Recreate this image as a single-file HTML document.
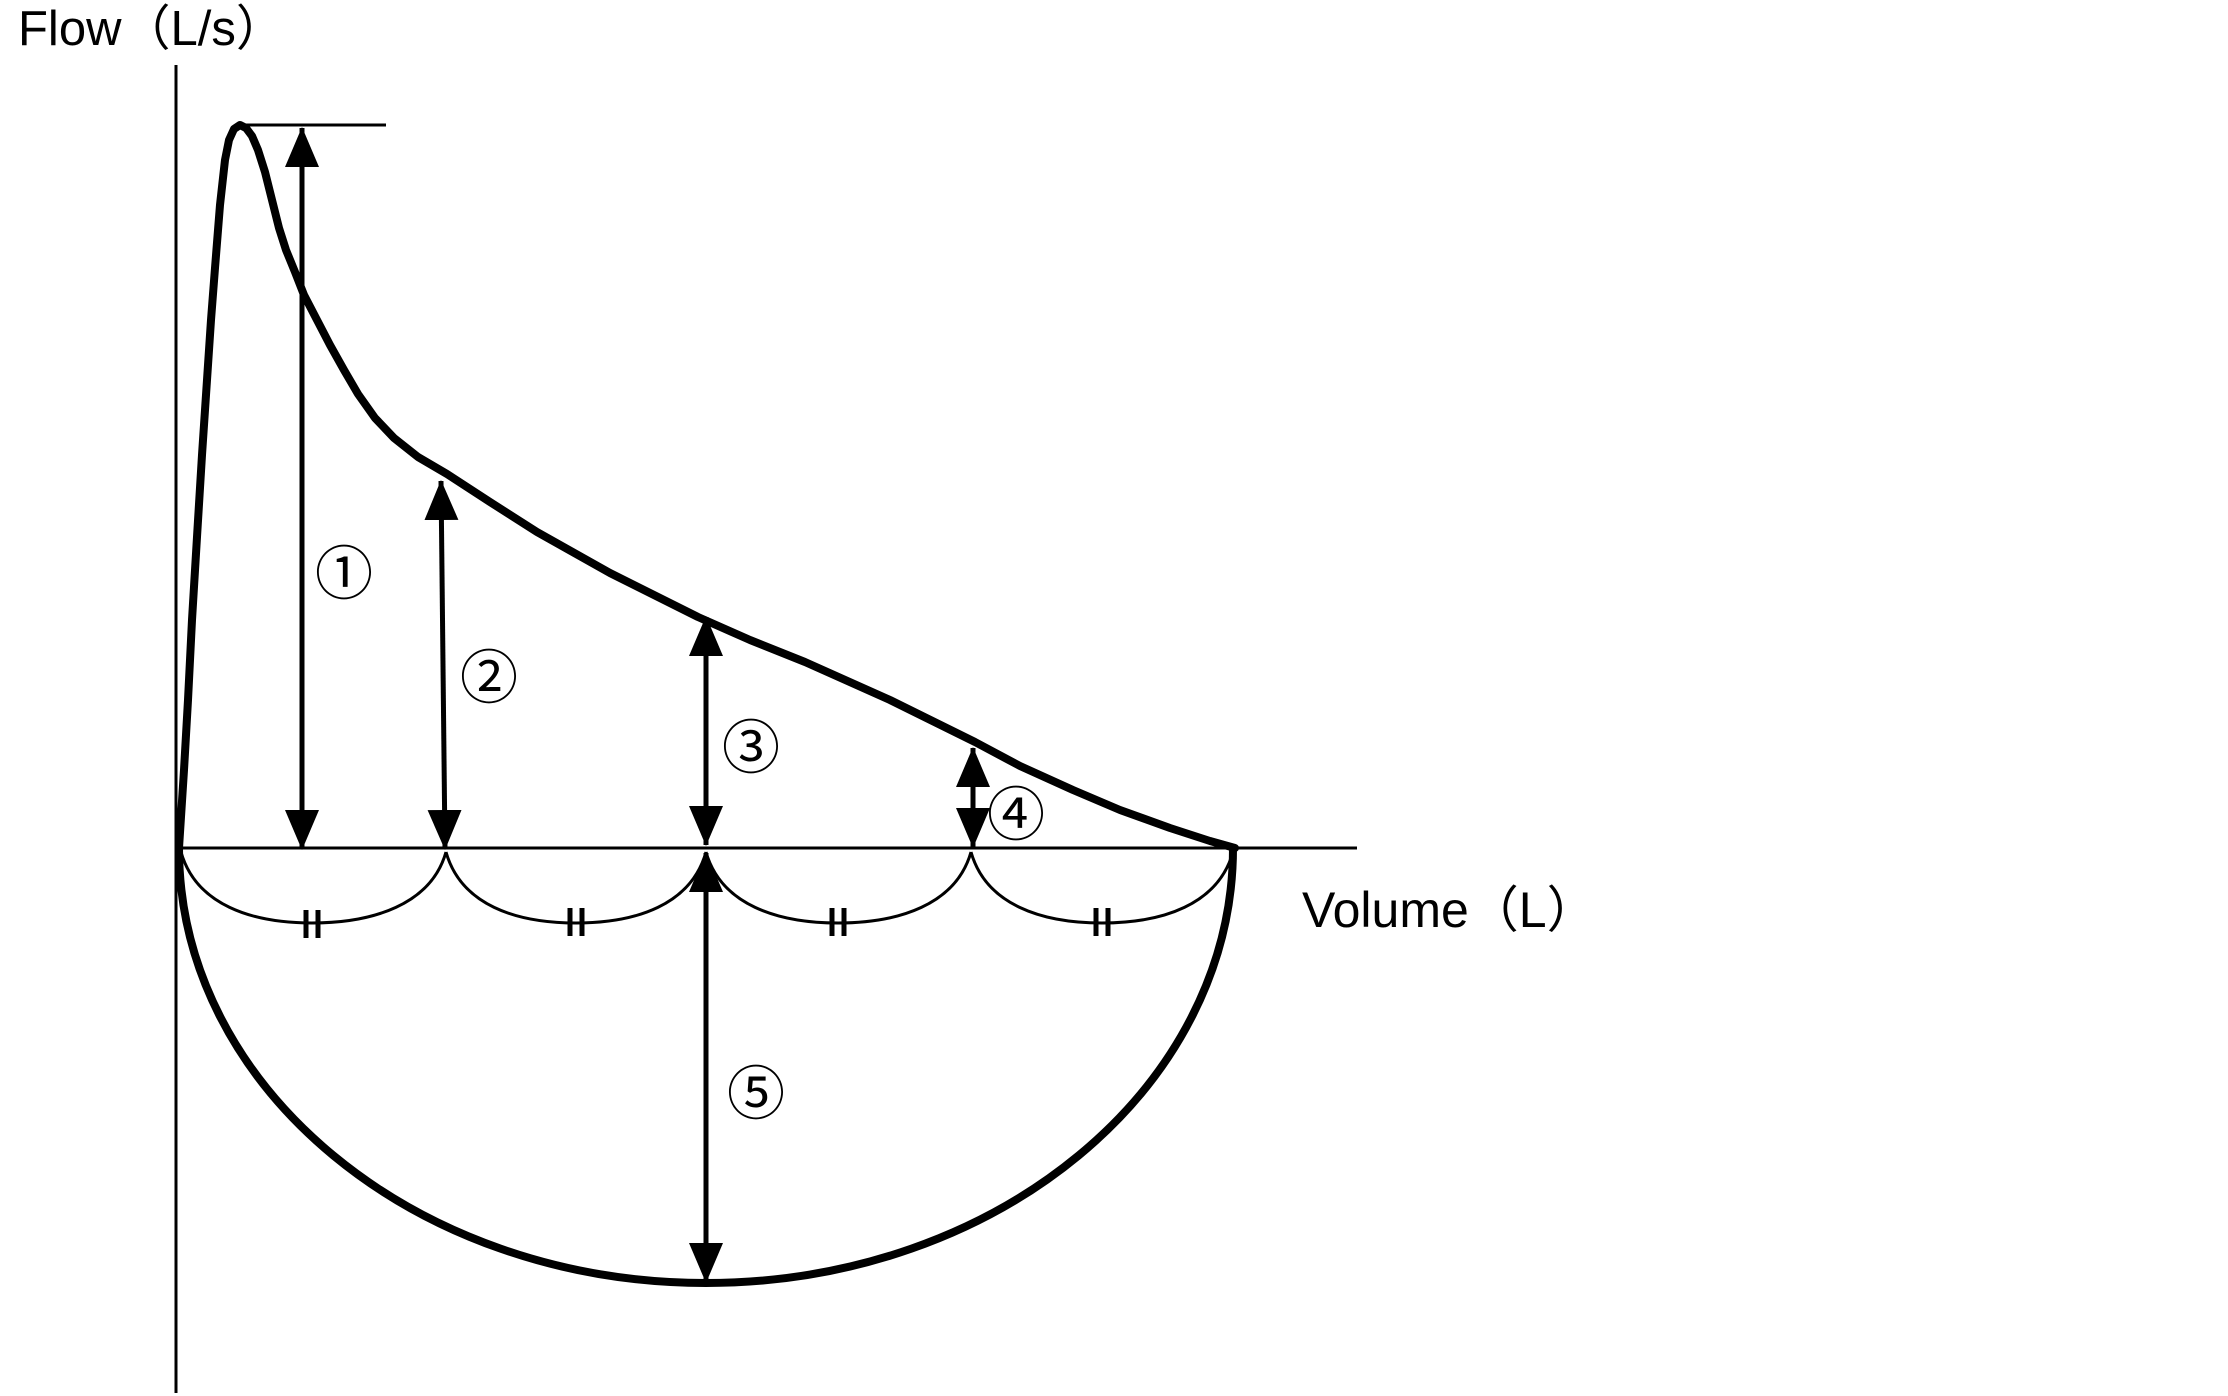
<!DOCTYPE html>
<html><head><meta charset="utf-8"><style>
html,body{margin:0;padding:0;background:#fff;}
svg{display:block;}
text{font-family:"Liberation Sans","Noto Sans CJK JP",sans-serif;fill:#000;}
</style></head><body>
<svg width="2228" height="1396" viewBox="0 0 2228 1396" xmlns="http://www.w3.org/2000/svg">
<defs>
<marker id="ah" markerWidth="40" markerHeight="34" refX="39" refY="17" orient="auto-start-reverse" markerUnits="userSpaceOnUse">
<path d="M0,0 L40,17 L0,34 Z" fill="#000"/>
</marker>
</defs>
<line x1="176" y1="65" x2="176" y2="1393" stroke="#000" stroke-width="3"/>
<line x1="176" y1="848" x2="1357" y2="848" stroke="#000" stroke-width="3"/>
<line x1="240" y1="125" x2="386" y2="125" stroke="#000" stroke-width="3"/>
<text x="18" y="45" font-size="49">Flow（L/s）</text>
<text x="1302" y="927" font-size="50">Volume（L）</text>
<polyline fill="none" stroke="#000" stroke-width="8" stroke-linejoin="round" stroke-linecap="round"
points="179,848 184,770 188,700 192,620 197,537 202,455 207,380 211,320 215,268 220,205 225,160 229,140 234,129 240,125 246,128 252,136 258,150 265,172 272,200 279,228 286,250 295,272 304,295 317,320 330,345 344,370 358,394 375,418 394,438 418,457 447,474 490,502 537,532 610,573 698,617 750,640 805,662 890,700 975,742 1020,766 1073,790 1120,810 1170,828 1210,841 1235,848"/>
<path d="M179,848 C179,1088 415,1283 706,1283 C997,1283 1233,1088 1233,848" fill="none" stroke="#000" stroke-width="8"/>
<g fill="none" stroke="#000" stroke-width="3">
<path d="M181,852 C196,905 252,923 312,923 S431,905 446,852"/>
<path d="M446,852 C461,905 516,923 576,923 S691,905 706,852"/>
<path d="M706,852 C721,905 778,923 838,923 S956,905 971,852"/>
<path d="M971,852 C986,905 1042,923 1102,923 S1218,905 1233,852"/>
</g>
<g stroke="#000" stroke-width="5">
<line x1="306" y1="910" x2="306" y2="938"/><line x1="318" y1="910" x2="318" y2="938"/>
<line x1="570" y1="908" x2="570" y2="936"/><line x1="582" y1="908" x2="582" y2="936"/>
<line x1="832" y1="908" x2="832" y2="936"/><line x1="844" y1="908" x2="844" y2="936"/>
<line x1="1096" y1="908" x2="1096" y2="936"/><line x1="1108" y1="908" x2="1108" y2="936"/>
</g>
<g stroke="#000" stroke-width="5" marker-start="url(#ah)" marker-end="url(#ah)" fill="none">
<line x1="302" y1="128" x2="302" y2="849"/>
<line x1="441" y1="481" x2="445" y2="849"/>
<line x1="706" y1="617" x2="706" y2="845"/>
<line x1="973" y1="748" x2="973" y2="847"/>
<line x1="706" y1="853" x2="706" y2="1282"/>
</g>
<g font-size="58" text-anchor="middle">
<text x="344" y="594">①</text>
<text x="489" y="698">②</text>
<text x="751" y="768">③</text>
<text x="1016" y="835">④</text>
<text x="756" y="1114">⑤</text>
</g>
</svg>
</body></html>
